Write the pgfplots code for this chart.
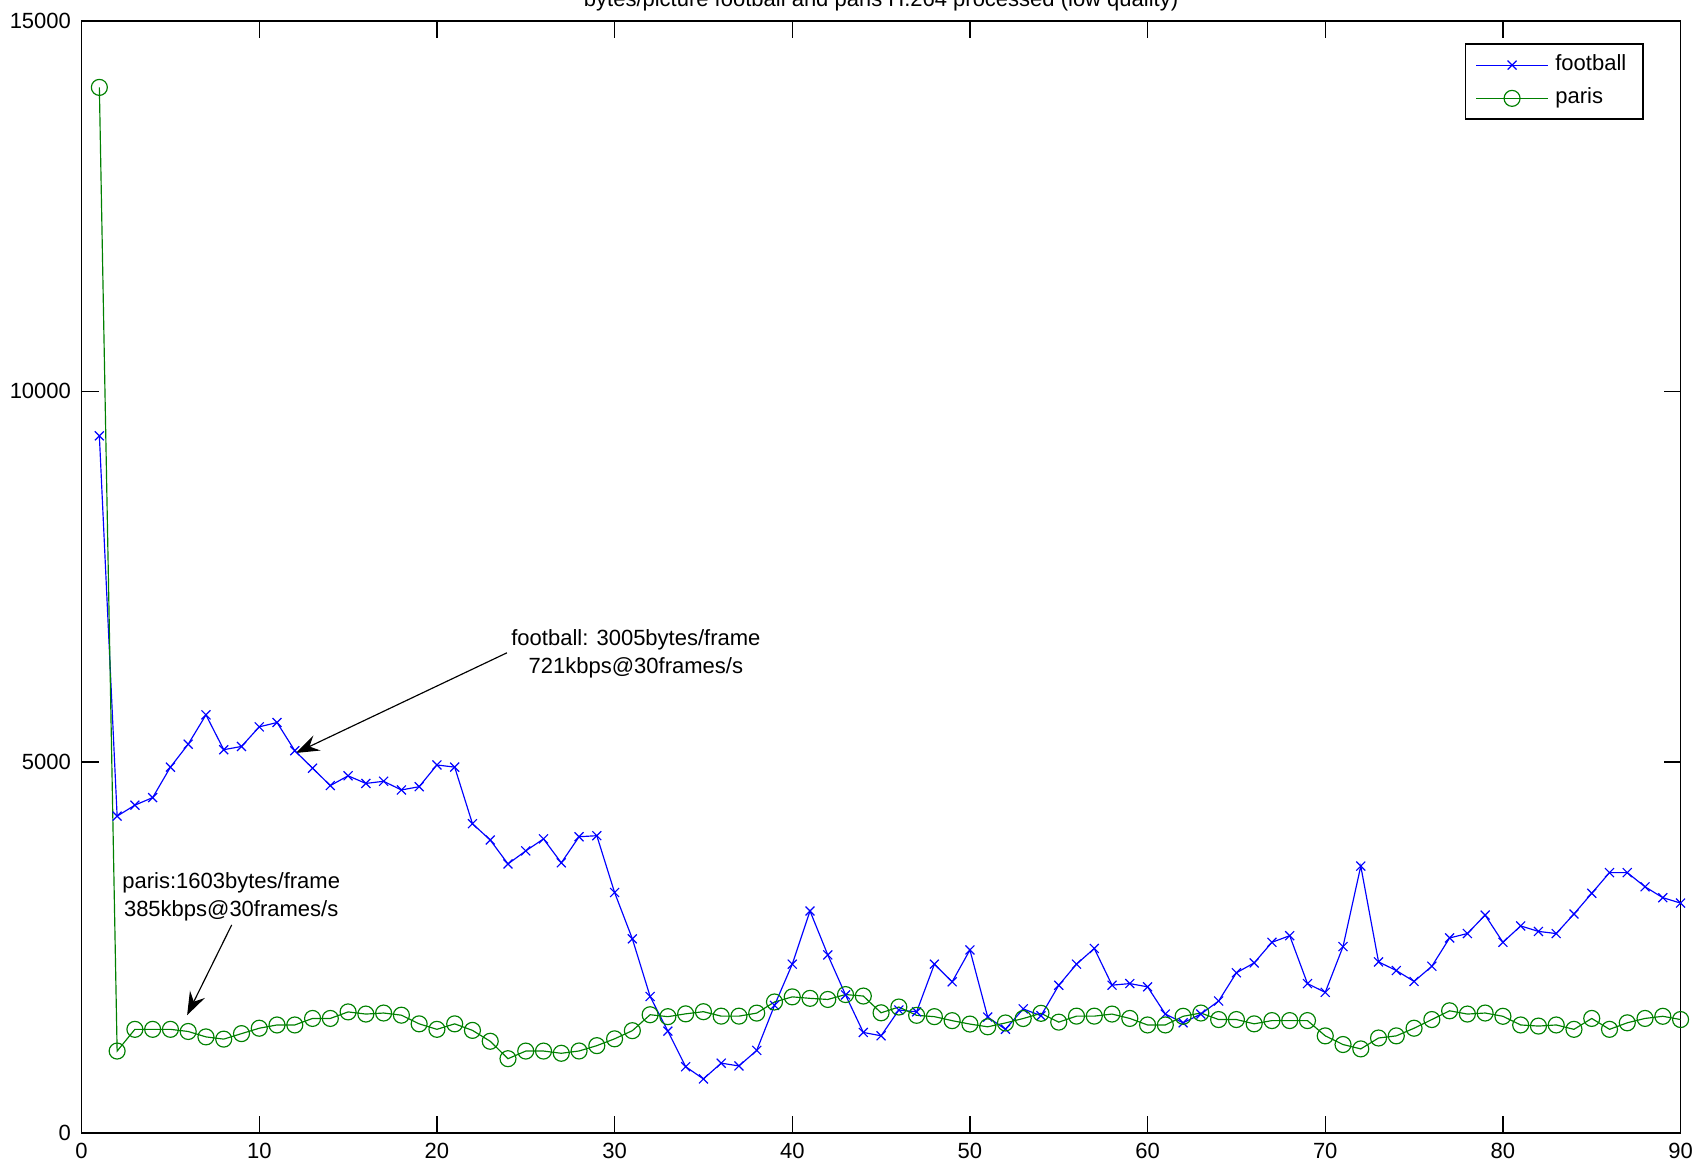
\documentclass[border=0pt]{standalone}
\usepackage{pgfplots}
\pgfplotsset{compat=1.18}
\usepackage{pgfplotstable}
\usepackage{fontspec}
\setmainfont{Liberation Sans}
\usetikzlibrary{arrows.meta}
\newcommand{\fs}{\fontsize{6.6}{8.5}\selectfont}

\pgfplotstableread{
x y
1 9400
2 4270
3 4418
4 4520
5 4931
6 5240
7 5636
8 5166
9 5210
10 5474
11 5533
12 5152
13 4917
14 4682
15 4814
16 4711
17 4740
18 4623
19 4667
20 4960
21 4931
22 4168
23 3948
24 3625
25 3801
26 3963
27 3640
28 3992
29 4006
30 3240
31 2615
32 1837
33 1370
34 890
35 725
36 938
37 900
38 1110
39 1717
40 2273
41 2990
42 2398
43 1858
44 1352
45 1307
46 1655
47 1630
48 2273
49 2035
50 2465
51 1560
52 1395
53 1670
54 1578
55 1988
56 2273
57 2485
58 1990
59 2011
60 1967
61 1600
62 1482
63 1600
64 1776
65 2157
66 2290
67 2568
68 2657
69 2011
70 1893
71 2510
72 3596
73 2304
74 2187
75 2040
76 2245
77 2627
78 2686
79 2935
80 2568
81 2789
82 2715
83 2686
84 2950
85 3229
86 3508
87 3508
88 3317
89 3170
90 3097
}\football

\pgfplotstableread{
x y
1 14100
2 1101
3 1394
4 1394
5 1394
6 1365
7 1292
8 1262
9 1336
10 1409
11 1453
12 1453
13 1541
14 1541
15 1629
16 1600
17 1614
18 1585
19 1468
20 1394
21 1468
22 1380
23 1233
24 998
25 1101
26 1101
27 1071
28 1102
29 1174
30 1266
31 1376
32 1591
33 1565
34 1603
35 1632
36 1572
37 1572
38 1613
39 1763
40 1832
41 1812
42 1797
43 1863
44 1843
45 1617
46 1695
47 1583
48 1565
49 1511
50 1465
51 1428
52 1480
53 1540
54 1610
55 1491
56 1572
57 1572
58 1600
59 1541
60 1453
61 1453
62 1570
63 1614
64 1526
65 1526
66 1468
67 1512
68 1512
69 1512
70 1306
71 1189
72 1130
73 1277
74 1306
75 1409
76 1526
77 1644
78 1600
79 1614
80 1570
81 1453
82 1438
83 1453
84 1394
85 1541
86 1394
87 1482
88 1541
89 1570
90 1526
}\paris

\begin{document}
\begin{tikzpicture}
\begin{axis}[
  at={(0,0)}, anchor=south west,
  scale only axis,
  width=479.7pt, height=333.6pt,
  xmin=0, xmax=90, ymin=0, ymax=15000,
  xtick={0,10,...,90},
  ytick={0,5000,10000,15000},
  scaled y ticks=false,
  /pgf/number format/1000 sep={},
  /pgf/number format/assume math mode=true,
  tick align=inside,
  xtick pos=both, ytick pos=both,
  major tick length=5.1pt,
  minor tick num=0,
  tick style={black, line width=0.4pt},
  axis line style={black, line width=0.5pt},
  every tick label/.append style={font=\fs, inner sep=0pt},
  xticklabel shift=3pt,
  yticklabel shift=3pt,
  clip=false,
  legend style={at={(0.977,0.9795)}, anchor=north east, font=\fs,
    draw=black, line width=0.5pt, inner xsep=3pt, inner ysep=1.1pt,
    row sep=-0.3pt, cells={anchor=west}},
  legend image code/.code={%
    \draw[mark repeat=2,mark phase=2] plot coordinates {(0cm,0cm) (0.38cm,0cm) (0.76cm,0cm)};},
]
\addplot[color=blue, line width=0.35pt, mark=x, mark size=1.9pt, mark options={solid, line width=0.35pt}] table[x=x,y=y] {\football};
\addlegendentry{football}
\addplot[color={rgb,1:red,0;green,0.5;blue,0}, line width=0.35pt, mark=o, mark size=2.4pt, mark options={solid, line width=0.35pt}] table[x=x,y=y] {\paris};
\addlegendentry{paris}

\node[font=\fs, anchor=base, inner sep=0pt, yshift=4.4pt] at (rel axis cs:0.5,1) {bytes/picture football and paris H.264 processed (low quality)};
\node[font=\fs, align=center, inner sep=0pt] at (axis cs:31.2,6458) {football: 3005bytes/frame\\721kbps@30frames/s};
\draw[black, line width=0.35pt, -{Stealth[length=7pt,width=5pt,inset=2.5pt]}] (axis cs:23.94,6473) -- (axis cs:12.06,5122);
\node[font=\fs, align=center, inner sep=0pt] at (axis cs:8.42,3185) {paris:1603bytes/frame\\385kbps@30frames/s};
\draw[black, line width=0.35pt, -{Stealth[length=7pt,width=5pt,inset=2.5pt]}] (axis cs:8.45,2803) -- (axis cs:5.94,1585);
\end{axis}
\pgfresetboundingbox
\useasboundingbox (-24.48pt,-9.69pt) rectangle (487.32pt,339.81pt);
\end{tikzpicture}
\end{document}
